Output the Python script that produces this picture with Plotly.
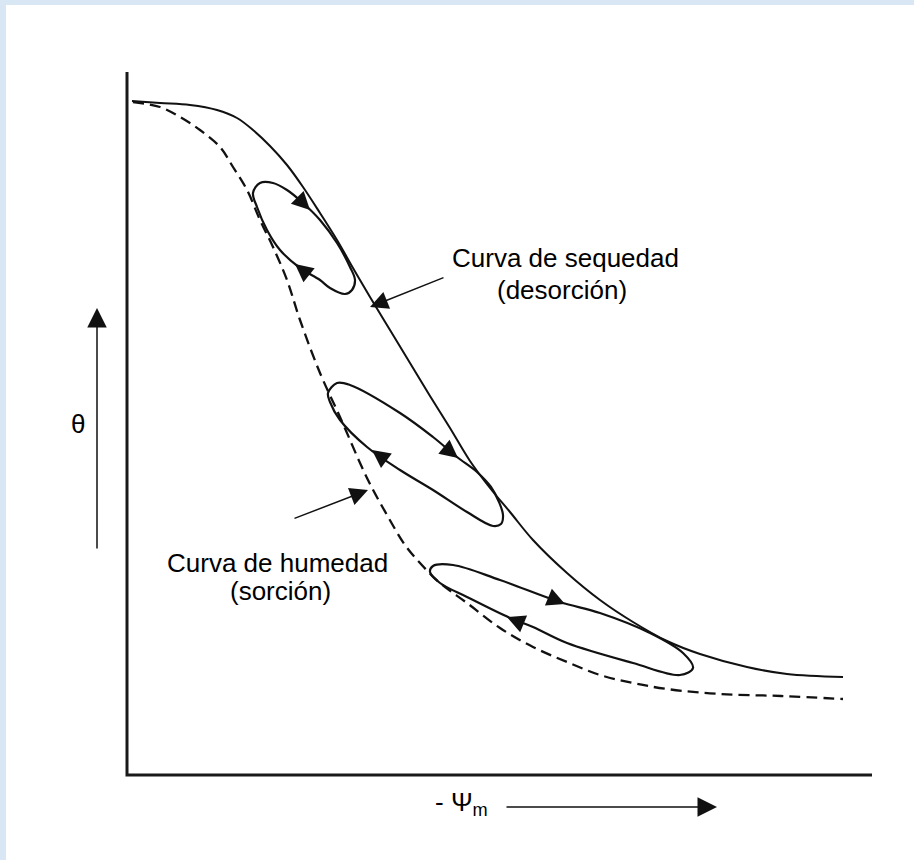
import plotly.graph_objects as go

# Drying (desorption) curve: -psi_m vs theta (arbitrary units)
dry_psi = [5, 33, 63, 90, 110, 126, 143, 160, 176, 193, 210, 226, 243, 263, 283, 303, 323, 343, 363, 383,
           406, 440, 473, 506, 540, 573, 620, 660, 716]
dry_theta = [674, 672, 670, 665, 657, 645, 629, 610, 588, 562, 535, 507, 478, 445, 412, 379, 347, 314, 287, 263,
             235, 202, 175, 153, 134, 121, 108, 101, 98]

# Wetting (sorption) curve
wet_psi = [6, 33, 53, 73, 93, 106, 120, 133, 146, 160, 173, 193, 213, 240, 260, 278, 293, 313, 340, 373,
           406, 440, 473, 506, 540, 593, 654, 716]
wet_theta = [673, 668, 658, 645, 628, 608, 585, 555, 528, 495, 455, 402, 358, 297, 260, 230, 212, 192, 172, 147,
             128, 113, 100, 92, 86, 81, 79, 76]

# Hysteresis scanning loops
loop1_psi = [126, 133, 146, 160, 176, 193, 210, 223, 228, 225, 218, 203, 193, 173, 153, 140, 130, 126]
loop1_theta = [582, 592, 592, 585, 572, 555, 532, 508, 495, 485, 481, 487, 495, 507, 525, 545, 568, 582]
loop2_psi = [201, 210, 223, 273, 306, 330, 350, 364, 372, 376, 374, 366, 340, 306, 273, 240, 213, 203, 201]
loop2_theta = [382, 392, 390, 362, 338, 318, 303, 288, 273, 260, 251, 249, 263, 285, 305, 328, 355, 373, 382]
loop3_psi = [303, 306, 326, 373, 433, 473, 523, 556, 566, 553, 506, 440, 406, 383, 340, 313, 303]
loop3_theta = [203, 209, 210, 195, 173, 162, 142, 122, 107, 100, 112, 132, 148, 157, 178, 192, 203]

# Direction arrows on the loops (tip and tail)
dir_tip_psi = [183, 168, 331, 245, 438, 380]
dir_tip_theta = [565, 511, 317, 325, 171, 158]
dir_tail_psi = [173, 178, 321, 257, 426, 392]
dir_tail_theta = [575, 503, 325, 316, 176, 153]

# Axes frame
axis_psi = [0, 0, 745]
axis_theta = [703, 0, 0]

FONT = "Arial, 'Liberation Sans', sans-serif"
INK = "#111111"

fig = go.Figure()
fig.add_trace(go.Scatter(x=axis_psi, y=axis_theta, mode="lines",
                         line=dict(color="#1a1a1a", width=3), hoverinfo="skip"))
fig.add_trace(go.Scatter(x=dry_psi, y=dry_theta, mode="lines",
                         line=dict(color=INK, width=2, shape="spline"), hoverinfo="skip"))
fig.add_trace(go.Scatter(x=wet_psi, y=wet_theta, mode="lines",
                         line=dict(color=INK, width=2.3, shape="spline", dash="11px,6px"), hoverinfo="skip"))
for lx, ly in [(loop1_psi, loop1_theta), (loop2_psi, loop2_theta), (loop3_psi, loop3_theta)]:
    fig.add_trace(go.Scatter(x=lx, y=ly, mode="lines",
                             line=dict(color=INK, width=2.2, shape="spline", smoothing=1.0),
                             hoverinfo="skip"))

annotations = []
for tx, ty, sx, sy in zip(dir_tip_psi, dir_tip_theta, dir_tail_psi, dir_tail_theta):
    annotations.append(dict(x=tx, y=ty, ax=sx, ay=sy, xref="x", yref="y", axref="x", ayref="y",
                            showarrow=True, arrowhead=2, arrowsize=1.8, arrowwidth=2,
                            arrowcolor=INK, standoff=0, text=""))

# Pointer arrows
annotations += [
    dict(x=243, y=468, ax=318, ay=498, xref="x", yref="y", axref="x", ayref="y", text="",
         showarrow=True, arrowhead=2, arrowsize=2.4, arrowwidth=1.5, arrowcolor=INK, standoff=0),
    dict(x=241, y=285, ax=166, ay=256, xref="x", yref="y", axref="x", ayref="y", text="",
         showarrow=True, arrowhead=2, arrowsize=2.4, arrowwidth=1.5, arrowcolor=INK, standoff=0),
    dict(x=-30, y=467, ax=-30, ay=225, xref="x", yref="y", axref="x", ayref="y", text="",
         showarrow=True, arrowhead=2, arrowsize=2.6, arrowwidth=1.5, arrowcolor=INK, standoff=0),
    dict(x=590, y=-32, ax=378, ay=-32, xref="x", yref="y", axref="x", ayref="y", text="",
         showarrow=True, arrowhead=2, arrowsize=2.6, arrowwidth=1.5, arrowcolor=INK, standoff=0),
]

tfont = dict(family=FONT, size=26, color="#000000")
annotations += [
    dict(x=438, y=517, text="Curva de sequedad", showarrow=False, font=tfont, xanchor="center", yanchor="middle"),
    dict(x=435, y=485, text="(desorción)", showarrow=False, font=tfont, xanchor="center", yanchor="middle"),
    dict(x=150, y=212, text="Curva de humedad", showarrow=False, font=tfont, xanchor="center", yanchor="middle"),
    dict(x=153, y=184, text="(sorción)", showarrow=False, font=tfont, xanchor="center", yanchor="middle"),
    dict(x=-49, y=351, text="θ", showarrow=False, font=tfont, xanchor="center", yanchor="middle"),
    dict(x=306, y=-28, text="- Ψ<sub>m</sub>", showarrow=False, font=tfont, xanchor="left", yanchor="middle"),
]

fig.update_layout(
    width=914, height=860,
    margin=dict(l=0, r=0, t=0, b=0),
    paper_bgcolor="#d9e6f4",
    plot_bgcolor="rgba(0,0,0,0)",
    showlegend=False,
    xaxis=dict(range=[-127, 787], visible=False, fixedrange=True),
    yaxis=dict(range=[-85, 775], visible=False, fixedrange=True),
    annotations=annotations,
    shapes=[dict(type="rect", xref="paper", yref="paper", x0=6 / 914, x1=1, y0=0, y1=1 - 5 / 860,
                 fillcolor="white", line=dict(width=0), layer="below")],
)

fig.write_html("out.html")
